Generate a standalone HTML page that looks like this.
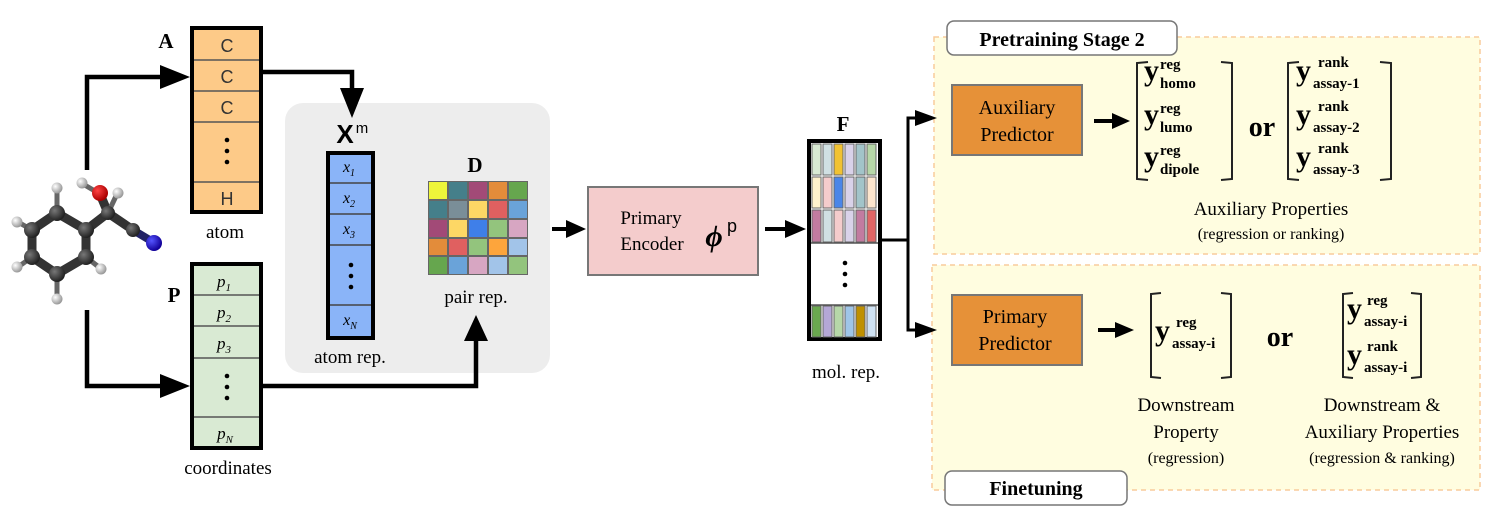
<!DOCTYPE html>
<html><head><meta charset="utf-8"><style>
html,body{margin:0;padding:0;background:#fff;}
svg{display:block;}
text{font-family:"Liberation Serif",serif;}
.s{font-family:"Liberation Sans",sans-serif;}
.b{font-weight:bold;}
</style></head><body>
<svg width="1495" height="509" viewBox="0 0 1495 509" xmlns="http://www.w3.org/2000/svg">
<defs>
<radialGradient id="gc" cx="35%" cy="35%" r="65%"><stop offset="0" stop-color="#777"/><stop offset="1" stop-color="#222"/></radialGradient>
<radialGradient id="gh" cx="35%" cy="35%" r="65%"><stop offset="0" stop-color="#fff"/><stop offset="1" stop-color="#999"/></radialGradient>
<radialGradient id="go" cx="35%" cy="35%" r="65%"><stop offset="0" stop-color="#f44"/><stop offset="1" stop-color="#a00"/></radialGradient>
<radialGradient id="gn" cx="35%" cy="35%" r="65%"><stop offset="0" stop-color="#55f"/><stop offset="1" stop-color="#109"/></radialGradient>
</defs>

<!-- gray panel -->
<rect x="285" y="103" width="265" height="270" rx="18" fill="#ededed"/>
<!-- panels -->
<rect x="934" y="37" width="546" height="217" fill="#fffde0" stroke="#f9cb9c" stroke-width="1.5" stroke-dasharray="5,4"/>
<rect x="932" y="265" width="548" height="225" fill="#fffde0" stroke="#f9cb9c" stroke-width="1.5" stroke-dasharray="5,4"/>

<!-- molecule -->
<g stroke="#333" stroke-width="9" stroke-linecap="round">
<polygon points="57,213 86,230 86,257 57,274 32,257 32,230" fill="none"/>
<line x1="86" y1="230" x2="108" y2="213"/><line x1="108" y1="213" x2="133" y2="230"/><line x1="108" y1="213" x2="100" y2="194"/>
</g>
<g stroke="#666" stroke-width="5" stroke-linecap="round">
<line x1="57" y1="213" x2="57" y2="190"/><line x1="32" y1="230" x2="18" y2="222"/><line x1="32" y1="257" x2="18" y2="267"/><line x1="57" y1="274" x2="57" y2="297"/><line x1="86" y1="257" x2="100" y2="268"/>
<line x1="108" y1="213" x2="117" y2="194"/><line x1="100" y1="194" x2="83" y2="184"/>
</g>
<line x1="133" y1="230" x2="153" y2="242" stroke="#226" stroke-width="8" stroke-linecap="round"/>
<polygon points="57,226 75,236 75,251 57,261 43,251 43,236" fill="none" stroke="#fff" stroke-width="1.5" stroke-dasharray="3,2"/>
<g>
<circle cx="57" cy="188" r="5.5" fill="url(#gh)"/><circle cx="17" cy="222" r="5.5" fill="url(#gh)"/><circle cx="17" cy="267" r="5.5" fill="url(#gh)"/><circle cx="57" cy="299" r="5.5" fill="url(#gh)"/><circle cx="101" cy="269" r="5.5" fill="url(#gh)"/><circle cx="82" cy="183" r="5.5" fill="url(#gh)"/><circle cx="118" cy="193" r="5.5" fill="url(#gh)"/>
<circle cx="57" cy="213" r="8" fill="url(#gc)"/><circle cx="86" cy="230" r="8" fill="url(#gc)"/><circle cx="86" cy="257" r="8" fill="url(#gc)"/><circle cx="57" cy="274" r="8" fill="url(#gc)"/><circle cx="32" cy="257" r="8" fill="url(#gc)"/><circle cx="32" cy="230" r="8" fill="url(#gc)"/>
<circle cx="100" cy="193" r="8" fill="url(#go)"/><circle cx="108" cy="213" r="7" fill="url(#gc)"/><circle cx="133" cy="230" r="7" fill="url(#gc)"/><circle cx="154" cy="243" r="8" fill="url(#gn)"/>
</g>

<!-- connectors left -->
<g fill="none" stroke="#000" stroke-width="4.5">
<polyline points="87,170 87,77 165,77"/>
<polyline points="87,310 87,386 165,386"/>
<polyline points="262,72 352,72 352,95"/>
<polyline points="262,386 476,386 476,340"/>
</g>
<g fill="#000">
<polygon points="160,65 190,77 160,89"/>
<polygon points="160,374 190,386 160,398"/>
<polygon points="340,88 364,88 352,118"/>
<polygon points="464,341 488,341 476,315"/>
</g>

<!-- A column -->
<text x="166" y="48" class="b" font-size="21" text-anchor="middle">A</text>
<rect x="192" y="28" width="69" height="184" fill="#fdca88" stroke="#000" stroke-width="4"/>
<g stroke="#555" stroke-width="1.5"><line x1="194" y1="60" x2="259" y2="60"/><line x1="194" y1="91" x2="259" y2="91"/><line x1="194" y1="122" x2="259" y2="122"/><line x1="194" y1="182" x2="259" y2="182"/></g>
<g class="s" font-size="18" text-anchor="middle" fill="#333">
<text x="227" y="52" class="s">C</text><text x="227" y="83" class="s">C</text><text x="227" y="114" class="s">C</text><text x="227" y="205" class="s">H</text></g>
<g fill="#000"><circle cx="227" cy="140" r="2.3"/><circle cx="227" cy="151" r="2.3"/><circle cx="227" cy="162" r="2.3"/></g>
<text x="225" y="238" font-size="19" text-anchor="middle">atom</text>

<!-- P column -->
<text x="174" y="302" class="b" font-size="21" text-anchor="middle">P</text>
<rect x="192" y="264" width="69" height="184" fill="#d9ead3" stroke="#000" stroke-width="4"/>
<g stroke="#555" stroke-width="1.5"><line x1="194" y1="295" x2="259" y2="295"/><line x1="194" y1="326" x2="259" y2="326"/><line x1="194" y1="358" x2="259" y2="358"/><line x1="194" y1="417" x2="259" y2="417"/></g>
<g font-size="17" font-style="italic" text-anchor="middle">
<text x="224" y="287">p<tspan font-size="11" dy="4">1</tspan></text>
<text x="224" y="318">p<tspan font-size="11" dy="4">2</tspan></text>
<text x="224" y="349">p<tspan font-size="11" dy="4">3</tspan></text>
<text x="225" y="439">p<tspan font-size="11" dy="4">N</tspan></text></g>
<g fill="#000"><circle cx="227" cy="376" r="2.3"/><circle cx="227" cy="387" r="2.3"/><circle cx="227" cy="398" r="2.3"/></g>
<text x="228" y="474" font-size="19" text-anchor="middle">coordinates</text>

<!-- Xm -->
<text x="345" y="143" class="s b" font-size="26" text-anchor="middle">X</text>
<text x="362" y="133" class="s" font-size="15" text-anchor="middle">m</text>
<rect x="328" y="153" width="45" height="185" fill="#8ab4f8" stroke="#000" stroke-width="4"/>
<g stroke="#444" stroke-width="1.5"><line x1="330" y1="183" x2="371" y2="183"/><line x1="330" y1="214" x2="371" y2="214"/><line x1="330" y1="245" x2="371" y2="245"/><line x1="330" y1="305" x2="371" y2="305"/></g>
<g font-size="16" font-style="italic" text-anchor="middle">
<text x="349" y="172">x<tspan font-size="10" dy="4">1</tspan></text>
<text x="349" y="203">x<tspan font-size="10" dy="4">2</tspan></text>
<text x="349" y="234">x<tspan font-size="10" dy="4">3</tspan></text>
<text x="350" y="325">x<tspan font-size="10" dy="4">N</tspan></text></g>
<g fill="#000"><circle cx="351" cy="265" r="2.3"/><circle cx="351" cy="276" r="2.3"/><circle cx="351" cy="287" r="2.3"/></g>
<text x="350" y="363" font-size="19" text-anchor="middle">atom rep.</text>

<!-- D grid -->
<text x="475" y="172" class="b" font-size="21" text-anchor="middle">D</text>
<rect x="428" y="181" width="100" height="94" fill="#666"/>
<g stroke="none">
<rect x="429" y="182" width="18" height="17" fill="#eef53a"/><rect x="449" y="182" width="18" height="17" fill="#457f8a"/><rect x="469" y="182" width="18" height="17" fill="#a24a77"/><rect x="489" y="182" width="18" height="17" fill="#e38c3a"/><rect x="509" y="182" width="18" height="17" fill="#66a64e"/>
<rect x="429" y="201" width="18" height="17" fill="#457f8a"/><rect x="449" y="201" width="18" height="17" fill="#7a8e98"/><rect x="469" y="201" width="18" height="17" fill="#fdd765"/><rect x="489" y="201" width="18" height="17" fill="#e06060"/><rect x="509" y="201" width="18" height="17" fill="#6aa3d9"/>
<rect x="429" y="220" width="18" height="17" fill="#a24a77"/><rect x="449" y="220" width="18" height="17" fill="#fdd765"/><rect x="469" y="220" width="18" height="17" fill="#3f7fe9"/><rect x="489" y="220" width="18" height="17" fill="#93c47d"/><rect x="509" y="220" width="18" height="17" fill="#d7a6c2"/>
<rect x="429" y="239" width="18" height="16" fill="#e38c3a"/><rect x="449" y="239" width="18" height="16" fill="#e06060"/><rect x="469" y="239" width="18" height="16" fill="#93c47d"/><rect x="489" y="239" width="18" height="16" fill="#fda53c"/><rect x="509" y="239" width="18" height="16" fill="#a2c4e9"/>
<rect x="429" y="257" width="18" height="17" fill="#66a64e"/><rect x="449" y="257" width="18" height="17" fill="#6aa3d9"/><rect x="469" y="257" width="18" height="17" fill="#d7a6c2"/><rect x="489" y="257" width="18" height="17" fill="#a2c4e9"/><rect x="509" y="257" width="18" height="17" fill="#93c47d"/>
</g>
<text x="476" y="303" font-size="19" text-anchor="middle">pair rep.</text>

<!-- encoder -->
<line x1="552" y1="229" x2="568" y2="229" stroke="#000" stroke-width="4"/>
<polygon points="566,220 586,229 566,238" fill="#000"/>
<rect x="588" y="187" width="170" height="88" fill="#f4cccc" stroke="#777" stroke-width="2"/>
<text x="651" y="224" font-size="19" text-anchor="middle">Primary</text>
<text x="652" y="250" font-size="19" text-anchor="middle">Encoder</text>
<text x="714" y="246" class="b" font-size="30" font-style="italic" text-anchor="middle" font-family="DejaVu Serif,serif">ϕ</text>
<text x="732" y="232" class="s" font-size="18" text-anchor="middle">p</text>
<line x1="765" y1="229" x2="788" y2="229" stroke="#000" stroke-width="4"/>
<polygon points="785,220 806,229 785,238" fill="#000"/>

<!-- F -->
<text x="843" y="131" class="b" font-size="21" text-anchor="middle">F</text>
<rect x="809" y="141" width="71" height="198" fill="#fff" stroke="#000" stroke-width="4"/>
<g stroke="#666" stroke-width="1">
<rect x="812" y="144" width="9" height="31" fill="#d9ead3"/><rect x="823" y="144" width="9" height="31" fill="#d0e0e3"/><rect x="834" y="144" width="9" height="31" fill="#f1c232"/><rect x="845" y="144" width="9" height="31" fill="#d9d2e9"/><rect x="856" y="144" width="9" height="31" fill="#a2c4c9"/><rect x="867" y="144" width="9" height="31" fill="#b6d7a8"/>
<rect x="812" y="177" width="9" height="31" fill="#fff2cc"/><rect x="823" y="177" width="9" height="31" fill="#f4cccc"/><rect x="834" y="177" width="9" height="31" fill="#4a86e8"/><rect x="845" y="177" width="9" height="31" fill="#d9d2e9"/><rect x="856" y="177" width="9" height="31" fill="#a2c4c9"/><rect x="867" y="177" width="9" height="31" fill="#fce5cd"/>
<rect x="812" y="210" width="9" height="32" fill="#c27ba0"/><rect x="823" y="210" width="9" height="32" fill="#d0e0e3"/><rect x="834" y="210" width="9" height="32" fill="#f4cccc"/><rect x="845" y="210" width="9" height="32" fill="#d9d2e9"/><rect x="856" y="210" width="9" height="32" fill="#c27ba0"/><rect x="867" y="210" width="9" height="32" fill="#e06666"/>
<rect x="812" y="306" width="9" height="31" fill="#6aa84f"/><rect x="823" y="306" width="9" height="31" fill="#b4a7d6"/><rect x="834" y="306" width="9" height="31" fill="#b6d7a8"/><rect x="845" y="306" width="9" height="31" fill="#9fc5e8"/><rect x="856" y="306" width="9" height="31" fill="#bf9000"/><rect x="867" y="306" width="9" height="31" fill="#cfe2f3"/>
</g>
<line x1="811" y1="243" x2="878" y2="243" stroke="#555" stroke-width="1.5"/>
<line x1="811" y1="305" x2="878" y2="305" stroke="#555" stroke-width="1.5"/>
<g fill="#000"><circle cx="845" cy="263" r="2.3"/><circle cx="845" cy="274" r="2.3"/><circle cx="845" cy="285" r="2.3"/></g>
<text x="846" y="378" font-size="19" text-anchor="middle">mol. rep.</text>

<!-- split -->
<g fill="none" stroke="#000" stroke-width="3"><polyline points="880,240 908,240"/><polyline points="917,118 908,118 908,330 917,330"/></g>
<polygon points="915,110 937,118 915,126" fill="#000"/>
<polygon points="915,322 937,330 915,338" fill="#000"/>

<!-- top panel content -->
<rect x="947" y="21" width="230" height="34" rx="7" fill="#fff" stroke="#777" stroke-width="1.5"/>
<text x="1062" y="46" class="b" font-size="20" text-anchor="middle">Pretraining Stage 2</text>
<rect x="952" y="85" width="130" height="70" fill="#e69138" stroke="#777" stroke-width="2"/>
<text x="1017" y="114" font-size="20" text-anchor="middle">Auxiliary</text>
<text x="1017" y="141" font-size="20" text-anchor="middle">Predictor</text>
<line x1="1094" y1="121" x2="1115" y2="121" stroke="#000" stroke-width="4"/>
<polygon points="1112,113 1130,121 1112,129" fill="#000"/>

<g fill="none" stroke="#222" stroke-width="2">
<polyline points="1148,62 1137,63 1137,179 1148,180"/><polyline points="1221,62 1232,63 1232,179 1221,180"/>
<polyline points="1299,62 1288,63 1288,179 1299,180"/><polyline points="1380,62 1391,63 1391,179 1380,180"/>
<polyline points="1161,293 1151,294 1151,377 1161,378"/><polyline points="1221,293 1231,294 1231,377 1221,378"/>
<polyline points="1353,293 1343,294 1343,377 1353,378"/><polyline points="1411,293 1421,294 1421,377 1411,378"/>
</g>
<g class="b">
<text x="1144" y="80" font-size="30">y</text><text x="1160" y="69" font-size="15">reg</text><text x="1160" y="88" font-size="15">homo</text>
<text x="1144" y="124" font-size="30">y</text><text x="1160" y="113" font-size="15">reg</text><text x="1160" y="132" font-size="15">lumo</text>
<text x="1144" y="166" font-size="30">y</text><text x="1160" y="155" font-size="15">reg</text><text x="1160" y="174" font-size="15">dipole</text>
<text x="1262" y="136" font-size="28" text-anchor="middle">or</text>
<text x="1296" y="80" font-size="30">y</text><text x="1318" y="67" font-size="15">rank</text><text x="1313" y="88" font-size="15">assay-1</text>
<text x="1296" y="124" font-size="30">y</text><text x="1318" y="111" font-size="15">rank</text><text x="1313" y="132" font-size="15">assay-2</text>
<text x="1296" y="166" font-size="30">y</text><text x="1318" y="153" font-size="15">rank</text><text x="1313" y="174" font-size="15">assay-3</text>
</g>
<text x="1271" y="215" font-size="19" text-anchor="middle">Auxiliary Properties</text>
<text x="1271" y="239" font-size="16" text-anchor="middle">(regression or ranking)</text>

<!-- bottom panel content -->
<rect x="945" y="471" width="182" height="34" rx="7" fill="#fff" stroke="#777" stroke-width="1.5"/>
<text x="1036" y="495" class="b" font-size="20" text-anchor="middle">Finetuning</text>
<rect x="952" y="295" width="130" height="70" fill="#e69138" stroke="#777" stroke-width="2"/>
<text x="1015" y="323" font-size="20" text-anchor="middle">Primary</text>
<text x="1015" y="350" font-size="20" text-anchor="middle">Predictor</text>
<line x1="1098" y1="330" x2="1118" y2="330" stroke="#000" stroke-width="4"/>
<polygon points="1115,322 1134,330 1115,338" fill="#000"/>
<g class="b">
<text x="1155" y="340" font-size="30">y</text><text x="1176" y="327" font-size="15">reg</text><text x="1172" y="348" font-size="15">assay-i</text>
<text x="1280" y="346" font-size="28" text-anchor="middle">or</text>
<text x="1347" y="318" font-size="30">y</text><text x="1367" y="305" font-size="15">reg</text><text x="1364" y="326" font-size="15">assay-i</text>
<text x="1347" y="364" font-size="30">y</text><text x="1367" y="351" font-size="15">rank</text><text x="1364" y="372" font-size="15">assay-i</text>
</g>
<text x="1186" y="411" font-size="19" text-anchor="middle">Downstream</text>
<text x="1186" y="438" font-size="19" text-anchor="middle">Property</text>
<text x="1186" y="463" font-size="16" text-anchor="middle">(regression)</text>
<text x="1382" y="411" font-size="19" text-anchor="middle">Downstream &amp;</text>
<text x="1382" y="438" font-size="19" text-anchor="middle">Auxiliary Properties</text>
<text x="1382" y="463" font-size="16" text-anchor="middle">(regression &amp; ranking)</text>
</svg>
</body></html>
